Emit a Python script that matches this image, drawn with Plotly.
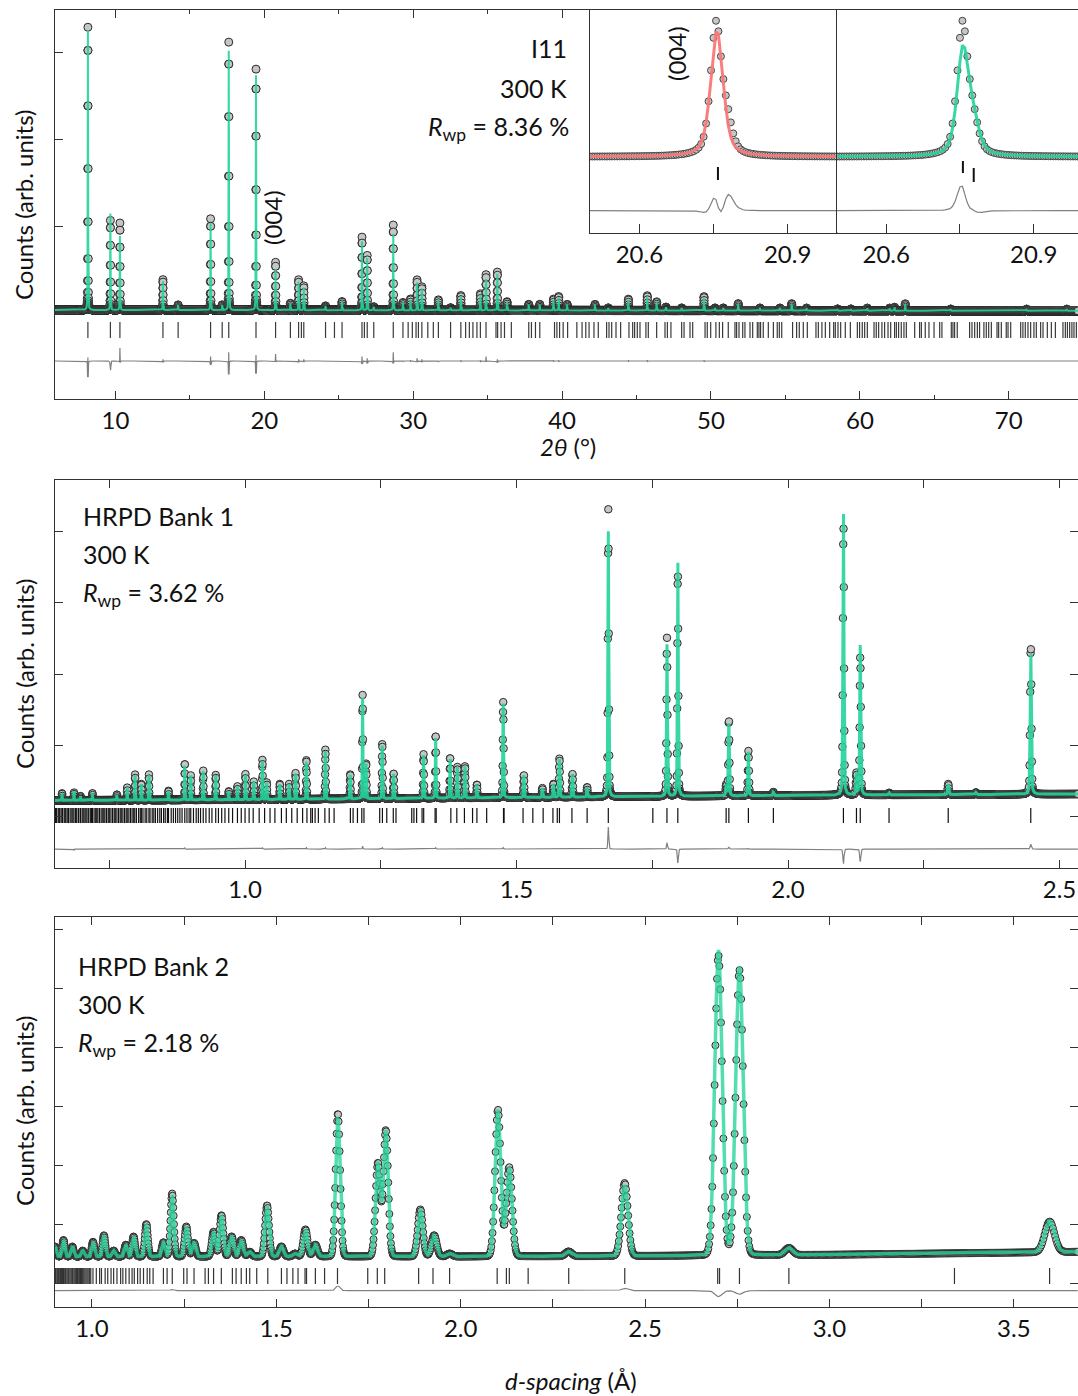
import numpy as np
import plotly.graph_objects as go

W, H = 1078, 1396
FONT = "Lato"
GREEN = "rgba(34,211,155,0.9)"
GREEN_T = "rgba(34,211,155,0.78)"
RED = "rgba(248,120,120,0.95)"
OBS_FILL = "#c6c6c6"
OBS_EDGE = "#2a2a2a"
DIFF = "#808080"
TICKC = "#333333"

# ---------------- I11 synchrotron, 2θ (deg) ----------------
i11_range = (5.94, 74.65)
i11_step = 0.005
i11_fwhm = 0.03
i11_calc_fwhm = 0.033
i11_eta = 0.3
i11_bg_x = [5.94, 74.65]
i11_bg_y = [0.046, 0.036]
i11_pos = [8.15, 9.66, 10.30, 13.19, 14.21, 16.39, 17.17, 17.61, 19.44, 20.755,
           21.75, 22.30, 22.65, 24.11, 25.22, 26.56, 26.91, 27.35, 28.66, 29.31,
           29.82, 30.26, 30.58, 31.69, 32.51, 33.20, 34.51, 34.89, 35.65, 36.30,
           37.76, 38.50, 39.42, 39.77, 40.34, 42.21, 43.10, 44.45, 45.72, 46.35,
           46.98, 48.03, 49.53, 50.27, 50.83, 51.83, 53.29, 54.63, 55.42, 56.42,
           58.50, 59.40, 60.50, 62.00, 62.33, 63.05, 66.10, 71.20, 73.90]
i11_obs = [3.25, 1.03, 1.00, 0.35, 0.06, 1.05, 0.06, 3.08, 2.77, 0.55,
           0.08, 0.35, 0.28, 0.05, 0.10, 0.84, 0.63, 0.04, 0.98, 0.09,
           0.13, 0.35, 0.27, 0.12, 0.03, 0.17, 0.19, 0.41, 0.44, 0.10,
           0.07, 0.07, 0.13, 0.16, 0.07, 0.07, 0.03, 0.13, 0.17, 0.10,
           0.04, 0.03, 0.16, 0.03, 0.03, 0.08, 0.03, 0.03, 0.08, 0.03,
           0.02, 0.02, 0.03, 0.03, 0.04, 0.08, 0.02, 0.02, 0.02]
i11_calc = [3.21, 1.11, 0.85, 0.33, 0.06, 1.00, 0.06, 2.98, 2.70, 0.47,
            0.08, 0.33, 0.26, 0.05, 0.10, 0.79, 0.60, 0.04, 0.88, 0.09,
            0.12, 0.32, 0.25, 0.12, 0.03, 0.16, 0.18, 0.36, 0.42, 0.10,
            0.07, 0.07, 0.12, 0.15, 0.07, 0.07, 0.03, 0.12, 0.16, 0.10,
            0.04, 0.03, 0.15, 0.03, 0.03, 0.08, 0.03, 0.03, 0.08, 0.03,
            0.02, 0.02, 0.03, 0.03, 0.04, 0.08, 0.02, 0.02, 0.02]
i11_hkl = [8.15, 9.66, 10.30, 13.19, 14.21, 16.39, 17.17, 17.61, 19.44, 20.755,
           21.75, 22.30, 22.49, 22.65, 24.11, 24.71, 25.22, 26.56, 26.72, 26.91,
           27.35, 28.66, 29.31, 29.66, 29.94, 30.19, 30.35, 30.58, 30.98, 31.35,
           31.69, 32.51, 33.20, 33.52, 33.77, 34.01, 34.28, 34.51, 34.89, 35.56,
           35.67, 35.90, 36.13, 36.59, 37.76, 37.94, 38.21, 38.50, 39.49, 39.65,
           39.83, 40.07, 40.37, 40.99, 41.34, 41.59, 41.81, 42.14, 42.43, 42.99,
           43.15, 43.33, 43.62, 43.93, 44.49, 44.74, 44.87, 45.05, 45.23, 45.63,
           45.79, 46.35, 46.91, 47.07, 47.31, 48.03, 48.19, 48.59, 48.77, 49.60,
           49.75, 49.98, 50.33, 50.56, 50.78, 51.16, 51.61, 51.72, 51.88, 52.13,
           52.28, 52.62, 52.80, 53.11, 53.22, 53.33, 53.51, 53.85, 54.19, 54.45,
           54.59, 54.75, 55.48, 55.75, 55.93, 56.20, 56.47, 57.05, 57.21, 57.45,
           57.68, 57.97, 58.24, 58.35, 58.53, 58.71, 59.02, 59.36, 59.83, 59.98,
           60.16, 60.32, 60.50, 60.95, 61.10, 61.26, 61.48, 61.66, 61.89, 62.07,
           62.33, 62.45, 62.60, 62.78, 62.96, 63.12, 63.68, 64.01, 64.13, 64.39,
           64.64, 64.98, 65.36, 65.51, 66.14, 66.25, 66.36, 66.54, 67.37, 67.53,
           67.71, 67.89, 68.04, 68.33, 68.49, 68.65, 68.83, 69.21, 69.32, 69.50,
           69.83, 69.95, 70.13, 70.80, 70.95, 71.11, 71.29, 71.47, 71.69, 71.85,
           72.14, 72.30, 72.59, 72.86, 73.13, 73.64, 73.80, 73.94, 74.09, 74.24,
           74.38, 74.54]

# (004) close-up: observed and two alternative fits
ins_range = (20.5, 21.0)
ins_obs_pos = [20.755, 20.777]
ins_obs_h = [130.0, 30.0]
ins_obs_w = 0.026
ins_fit1_pos = [20.757]
ins_fit1_h = [126.7]
ins_fit1_w = 0.030
ins_fit2_pos = [20.756, 20.778]
ins_fit2_h = [106.0, 28.0]
ins_fit2_w = 0.028
ins_hkl1 = [20.759]
ins_hkl2 = [20.756, 20.778]

# ---------------- HRPD bank 1, d-spacing (Å) ----------------
b1_range = (0.650, 2.534)
b1_logstep = 0.00025
b1_res = 0.0011
b1_eta = 0.3
b1_bg_x = [0.65, 1.0, 1.5, 2.0, 2.534]
b1_bg_y = [0.22, 0.23, 0.26, 0.29, 0.31]
b1_pos = [0.663, 0.685, 0.697, 0.719, 0.764, 0.783, 0.7975, 0.809, 0.823, 0.859,
          0.889, 0.900, 0.923, 0.946, 0.970, 0.986, 1.0007, 1.016, 1.032, 1.040,
          1.064, 1.081, 1.093, 1.113, 1.148, 1.1937, 1.2165, 1.223, 1.2527, 1.2736,
          1.3287, 1.351, 1.3776, 1.391, 1.405, 1.427, 1.4754, 1.5134, 1.5476, 1.568,
          1.579, 1.603, 1.630, 1.669, 1.777, 1.797, 1.886, 1.891, 1.927, 1.973,
          2.102, 2.126, 2.133, 2.186, 2.295, 2.346, 2.447]
b1_obs = [0.10, 0.11, 0.06, 0.10, 0.08, 0.18, 0.36, 0.23, 0.36, 0.13,
          0.52, 0.35, 0.42, 0.35, 0.12, 0.19, 0.36, 0.26, 0.56, 0.24,
          0.22, 0.22, 0.37, 0.56, 0.70, 0.35, 1.46, 0.50, 0.78, 0.36,
          0.62, 0.90, 0.58, 0.44, 0.45, 0.19, 1.35, 0.32, 0.13, 0.19,
          0.55, 0.33, 0.14, 4.05, 2.24, 3.17, 0.15, 1.08, 0.63, 0.05,
          3.81, 0.30, 1.95, 0.03, 0.15, 0.03, 2.10]
b1_calc = [0.10, 0.13, 0.06, 0.10, 0.08, 0.18, 0.35, 0.23, 0.35, 0.13,
           0.50, 0.35, 0.41, 0.35, 0.12, 0.19, 0.35, 0.26, 0.54, 0.24,
           0.22, 0.22, 0.36, 0.54, 0.68, 0.35, 1.42, 0.50, 0.76, 0.36,
           0.61, 0.88, 0.57, 0.44, 0.45, 0.19, 1.33, 0.32, 0.13, 0.19,
           0.54, 0.33, 0.14, 3.74, 2.15, 3.37, 0.15, 1.05, 0.62, 0.05,
           4.02, 0.30, 2.13, 0.03, 0.15, 0.03, 2.03]
b1_hkl = [0.651, 0.653, 0.656, 0.658, 0.661, 0.663, 0.664, 0.667, 0.669, 0.672,
          0.674, 0.675, 0.678, 0.681, 0.683, 0.685, 0.688, 0.690, 0.693, 0.694,
          0.697, 0.700, 0.702, 0.705, 0.707, 0.709, 0.712, 0.715, 0.717, 0.719,
          0.722, 0.725, 0.727, 0.729, 0.732, 0.735, 0.738, 0.740, 0.742, 0.745,
          0.748, 0.750, 0.753, 0.756, 0.759, 0.761, 0.764, 0.767, 0.770, 0.772,
          0.775, 0.778, 0.781, 0.783, 0.786, 0.789, 0.792, 0.795, 0.797, 0.800,
          0.804, 0.807, 0.809, 0.812, 0.816, 0.819, 0.823, 0.825, 0.829, 0.832,
          0.835, 0.839, 0.843, 0.846, 0.850, 0.853, 0.857, 0.859, 0.864, 0.868,
          0.872, 0.876, 0.880, 0.884, 0.889, 0.893, 0.897, 0.900, 0.905, 0.910,
          0.914, 0.918, 0.923, 0.928, 0.934, 0.939, 0.946, 0.951, 0.957, 0.963,
          0.970, 0.977, 0.986, 0.993, 1.000, 1.0075, 1.015, 1.026, 1.036, 1.046,
          1.055, 1.067, 1.076, 1.086, 1.096, 1.106, 1.114, 1.121, 1.124, 1.129,
          1.135, 1.147, 1.155, 1.164, 1.194, 1.199, 1.207, 1.215, 1.219, 1.248,
          1.253, 1.261, 1.273, 1.278, 1.307, 1.311, 1.316, 1.326, 1.329, 1.350,
          1.352, 1.379, 1.390, 1.404, 1.419, 1.427, 1.445, 1.476, 1.477, 1.512,
          1.530, 1.549, 1.567, 1.575, 1.579, 1.602, 1.630, 1.669, 1.751, 1.777,
          1.797, 1.886, 1.891, 1.927, 1.973, 2.102, 2.126, 2.133, 2.186, 2.295,
          2.447]

# ---------------- HRPD bank 2, d-spacing (Å) ----------------
b2_range = (0.900, 3.674)
b2_logstep = 0.0008
b2_res = 0.0085
b2_eta = 0.03
b2_bg_x = [0.90, 2.0, 2.5, 3.0, 3.674]
b2_bg_y = [0.45, 0.45, 0.46, 0.48, 0.53]
b2_pos = [0.900, 0.923, 0.947, 0.975, 1.003, 1.0326, 1.059, 1.092, 1.113, 1.1477,
          1.194, 1.2176, 1.256, 1.277, 1.330, 1.3514, 1.379, 1.405, 1.428, 1.475,
          1.514, 1.551, 1.579, 1.606, 1.667, 1.7756, 1.797, 1.8906, 1.928, 1.970,
          2.101, 2.1316, 2.2925, 2.4447, 2.699, 2.756, 2.890, 3.597]
b2_obs = [0.17, 0.28, 0.17, 0.10, 0.25, 0.36, 0.10, 0.20, 0.34, 0.55,
          0.24, 1.07, 0.51, 0.23, 0.42, 0.70, 0.34, 0.28, 0.08, 0.87,
          0.17, 0.05, 0.46, 0.20, 2.43, 1.58, 2.14, 0.80, 0.36, 0.05,
          2.49, 1.51, 0.08, 1.24, 5.09, 4.84, 0.12, 0.52]
b2_calc = [0.17, 0.28, 0.17, 0.10, 0.25, 0.36, 0.10, 0.20, 0.34, 0.55,
           0.24, 1.05, 0.51, 0.23, 0.42, 0.70, 0.34, 0.28, 0.08, 0.86,
           0.17, 0.05, 0.46, 0.20, 2.35, 1.58, 2.14, 0.80, 0.36, 0.05,
           2.49, 1.51, 0.08, 1.20, 5.19, 4.90, 0.12, 0.53]
b2_hkl = [0.901, 0.903, 0.906, 0.908, 0.910, 0.913, 0.915, 0.918, 0.920, 0.923,
          0.925, 0.928, 0.930, 0.933, 0.936, 0.938, 0.941, 0.944, 0.947, 0.949,
          0.952, 0.955, 0.958, 0.961, 0.963, 0.966, 0.969, 0.972, 0.975, 0.978,
          0.981, 0.984, 0.987, 0.990, 0.994, 0.997, 1.003, 1.012, 1.021, 1.026,
          1.036, 1.043, 1.052, 1.059, 1.068, 1.078, 1.084, 1.092, 1.101, 1.109,
          1.115, 1.124, 1.131, 1.140, 1.150, 1.157, 1.166, 1.194, 1.204, 1.218,
          1.249, 1.258, 1.277, 1.307, 1.316, 1.330, 1.351, 1.381, 1.391, 1.405,
          1.419, 1.428, 1.447, 1.477, 1.514, 1.529, 1.545, 1.559, 1.578, 1.582,
          1.606, 1.631, 1.666, 1.748, 1.774, 1.794, 1.886, 1.925, 1.970, 2.099,
          2.124, 2.132, 2.183, 2.293, 2.445, 2.697, 2.702, 2.756, 2.890, 3.339,
          3.597]


def pseudo_voigt(x, pos, height, fwhm, eta):
    """Sum of pseudo-Voigt reflections evaluated on the grid x."""
    x = np.asarray(x)[None, :]
    p = np.asarray(pos, dtype=float)[:, None]
    h = np.asarray(height, dtype=float)[:, None]
    w = np.broadcast_to(np.asarray(fwhm, dtype=float), p.shape[:1])[:, None]
    r2 = ((x - p) / w) ** 2
    g = np.exp(-4.0 * np.log(2.0) * r2)
    lor = 1.0 / (1.0 + 4.0 * r2)
    return (h * (eta * lor + (1.0 - eta) * g)).sum(axis=0)


def segments(pos, y0, y1):
    xs, ys = [], []
    for p in pos:
        xs += [p, p, None]
        ys += [y0, y1, None]
    return xs, ys


# profiles
x1 = np.arange(i11_range[0], i11_range[1], i11_step)
bg1 = np.interp(x1, i11_bg_x, i11_bg_y)
obs1 = bg1 + pseudo_voigt(x1, i11_pos, i11_obs, i11_fwhm, i11_eta)
calc1 = bg1 + pseudo_voigt(x1, i11_pos, i11_calc, i11_calc_fwhm, i11_eta)

x2 = np.exp(np.arange(np.log(b1_range[0]), np.log(b1_range[1]), b1_logstep))
bg2 = np.interp(x2, b1_bg_x, b1_bg_y)
w2 = b1_res * np.asarray(b1_pos)
obs2 = bg2 + pseudo_voigt(x2, b1_pos, b1_obs, w2, b1_eta)
calc2 = bg2 + pseudo_voigt(x2, b1_pos, b1_calc, w2, b1_eta)

x3 = np.exp(np.arange(np.log(b2_range[0]), np.log(b2_range[1]), b2_logstep))
bg3 = np.interp(x3, b2_bg_x, b2_bg_y)
w3 = b2_res * np.asarray(b2_pos)
obs3 = bg3 + pseudo_voigt(x3, b2_pos, b2_obs, w3, b2_eta)
calc3 = bg3 + pseudo_voigt(x3, b2_pos, b2_calc, w3, b2_eta)

xi = np.arange(ins_range[0], ins_range[1] + 1e-9, i11_step)
obsi = pseudo_voigt(xi, ins_obs_pos, ins_obs_h, ins_obs_w, 0.5)
fit1 = pseudo_voigt(xi, ins_fit1_pos, ins_fit1_h, ins_fit1_w, 0.5)
fit2 = pseudo_voigt(xi, ins_fit2_pos, ins_fit2_h, ins_fit2_w, 0.5)

fig = go.Figure()


def add_panel(x, obs, calc, hkl, xa, ya, diff_off, tick_lo, tick_hi,
              msize, lw, lcolor, hkl_color, hkl_w):
    fig.add_trace(go.Scatter(x=x, y=obs, mode="markers", xaxis=xa, yaxis=ya,
                             marker=dict(size=msize, color=OBS_FILL,
                                         line=dict(color=OBS_EDGE, width=1)),
                             hoverinfo="skip"))
    fig.add_trace(go.Scatter(x=x, y=calc, mode="lines", xaxis=xa, yaxis=ya,
                             line=dict(color=lcolor, width=lw), hoverinfo="skip"))
    sx, sy = segments(hkl, tick_hi, tick_lo)
    fig.add_trace(go.Scatter(x=sx, y=sy, mode="lines", xaxis=xa, yaxis=ya,
                             line=dict(color=hkl_color, width=hkl_w), hoverinfo="skip"))
    fig.add_trace(go.Scatter(x=x, y=obs - calc + diff_off, mode="lines", xaxis=xa, yaxis=ya,
                             line=dict(color=DIFF, width=1.2), hoverinfo="skip"))


add_panel(x1, obs1, calc1, i11_hkl, "x", "y", -0.54, -0.276, -0.092, 8, 2.0, GREEN, "#3a3a3a", 1.2)
add_panel(x2, obs2, calc2, b1_hkl, "x2", "y2", -0.465, -0.099, 0.113, 7.5, 3.0, GREEN, "#111111", 1.2)
add_panel(x3, obs3, calc3, b2_hkl, "x3", "y3", -0.13, -0.017, 0.255, 7, 3.5, GREEN_T, "#333333", 1.2)

# close-up insets around (004)
for xa, ya, fit, col, hkl, lo, hi in [
    ("x4", "y4", fit1, RED, ins_hkl1, [-23.3], [-10.3]),
    ("x5", "y5", fit2, GREEN, ins_hkl2, [-16.3, -25.3], [-4.3, -11.3]),
]:
    fig.add_trace(go.Scatter(x=xi, y=obsi, mode="markers", xaxis=xa, yaxis=ya,
                             marker=dict(size=7, color=OBS_FILL,
                                         line=dict(color="#444444", width=1)),
                             hoverinfo="skip"))
    fig.add_trace(go.Scatter(x=xi, y=fit, mode="lines", xaxis=xa, yaxis=ya,
                             line=dict(color=col, width=3), hoverinfo="skip"))
    sx, sy = [], []
    for p, a, b in zip(hkl, lo, hi):
        sx += [p, p, None]
        sy += [a, b, None]
    fig.add_trace(go.Scatter(x=sx, y=sy, mode="lines", xaxis=xa, yaxis=ya,
                             line=dict(color="#111111", width=2), hoverinfo="skip"))
    fig.add_trace(go.Scatter(x=xi, y=obsi - fit - 54, mode="lines", xaxis=xa, yaxis=ya,
                             line=dict(color=DIFF, width=1.2), hoverinfo="skip"))


def ydom(top_px, bot_px):
    return [1 - bot_px / H, 1 - top_px / H]


tickfont = dict(family=FONT, size=24, color="#111111")
common_x = dict(showline=True, mirror="ticks", linecolor=TICKC, linewidth=1,
                ticks="inside", ticklen=8, tickcolor=TICKC, tickwidth=1,
                showgrid=False, zeroline=False, tickfont=tickfont)
common_y = dict(showline=True, mirror="ticks", linecolor=TICKC, linewidth=1,
                ticks="inside", ticklen=8, tickcolor=TICKC, tickwidth=1,
                showgrid=False, zeroline=False, showticklabels=False)
inset_x = dict(showline=True, mirror=True, linecolor=TICKC, linewidth=1,
               ticks="inside", ticklen=9, tickcolor=TICKC, showgrid=False, zeroline=False,
               tickmode="array", tickvals=[20.6, 20.9], ticktext=["20.6", "20.9"],
               minor=dict(ticks="inside", ticklen=9, tickmode="array",
                          tickvals=[20.75], tickcolor=TICKC),
               tickfont=tickfont)
inset_y = dict(showline=True, mirror=True, linecolor=TICKC, linewidth=1, ticks="",
               showgrid=False, zeroline=False, showticklabels=False,
               domain=ydom(10, 232.7), range=[-76, 146.7])

layout = dict(
    width=W, height=H, margin=dict(l=0, r=0, t=0, b=0),
    paper_bgcolor="white", plot_bgcolor="white", showlegend=False,
    font=dict(family=FONT, color="#111111"),
    xaxis=dict(common_x, domain=[55 / W, 1], range=list(i11_range), anchor="y",
               tickmode="linear", tick0=0, dtick=10,
               minor=dict(ticks="inside", ticklen=4, dtick=5, tick0=0, tickcolor=TICKC)),
    yaxis=dict(common_y, domain=ydom(10, 399), range=[-0.977, 3.494], anchor="x",
               tickmode="array", tickvals=[0, 1, 2, 3]),
    xaxis2=dict(common_x, domain=[55 / W, 1], range=list(b1_range), anchor="y2",
                tickmode="linear", tick0=0, dtick=0.5, tickformat=".1f",
                minor=dict(ticks="inside", ticklen=8, dtick=0.25, tick0=0, tickcolor=TICKC)),
    yaxis2=dict(common_y, domain=ydom(480, 868), range=[-0.732, 4.732], anchor="x2",
                tickmode="array", tickvals=[0, 1, 2, 3, 4]),
    xaxis3=dict(common_x, domain=[55 / W, 1], range=list(b2_range), anchor="y3",
                tickmode="linear", tick0=0, dtick=0.5, tickformat=".1f",
                minor=dict(ticks="inside", ticklen=8, dtick=0.25, tick0=0, tickcolor=TICKC)),
    yaxis3=dict(common_y, domain=ydom(917.3, 1306.7), range=[-0.402, 6.214], anchor="x3",
                tickmode="array", tickvals=[0, 1, 2, 3, 4, 5, 6]),
    xaxis4=dict(inset_x, domain=[590 / W, 837 / W], range=[20.5, 21.0], anchor="y4"),
    yaxis4=dict(inset_y, anchor="x4"),
    xaxis5=dict(inset_x, domain=[837 / W, 1], range=[20.5, 20.99], anchor="y5"),
    yaxis5=dict(inset_y, anchor="x5"),
)
fig.update_layout(**layout)


def note(text, x_px, y_px, size=25, xanchor="left", angle=0):
    fig.add_annotation(text=text, x=x_px / W, y=1 - y_px / H, xref="paper", yref="paper",
                       xanchor=xanchor, yanchor="middle", showarrow=False, textangle=angle,
                       font=dict(family=FONT, size=size, color="#111111"))


# panel labels
note("I11", 569, 48, xanchor="right")
note("300 K", 569, 88, xanchor="right")
note("<i>R</i><sub>wp</sub> = 8.36 %", 571, 128, xanchor="right")
note("HRPD Bank 1", 81, 516)
note("300 K", 81, 554)
note("<i>R</i><sub>wp</sub> = 3.62 %", 81, 594)
note("HRPD Bank 2", 76, 966)
note("300 K", 76, 1004)
note("<i>R</i><sub>wp</sub> = 2.18 %", 76, 1044)

# (004) reflection labels
note("(004)", 272, 218, size=24, xanchor="center", angle=-90)
note("(004)", 676, 54, size=24, xanchor="center", angle=-90)

# axis titles
for yc in (205, 674, 1111):
    note("Counts (arb. units)", 24, yc, size=24, xanchor="center", angle=-90)
note("<i>2θ</i> (°)", 568, 447, size=24, xanchor="center")
note("<i>d-spacing</i> (Å)", 571, 1380, size=24, xanchor="center")

fig.write_html("out.html")
